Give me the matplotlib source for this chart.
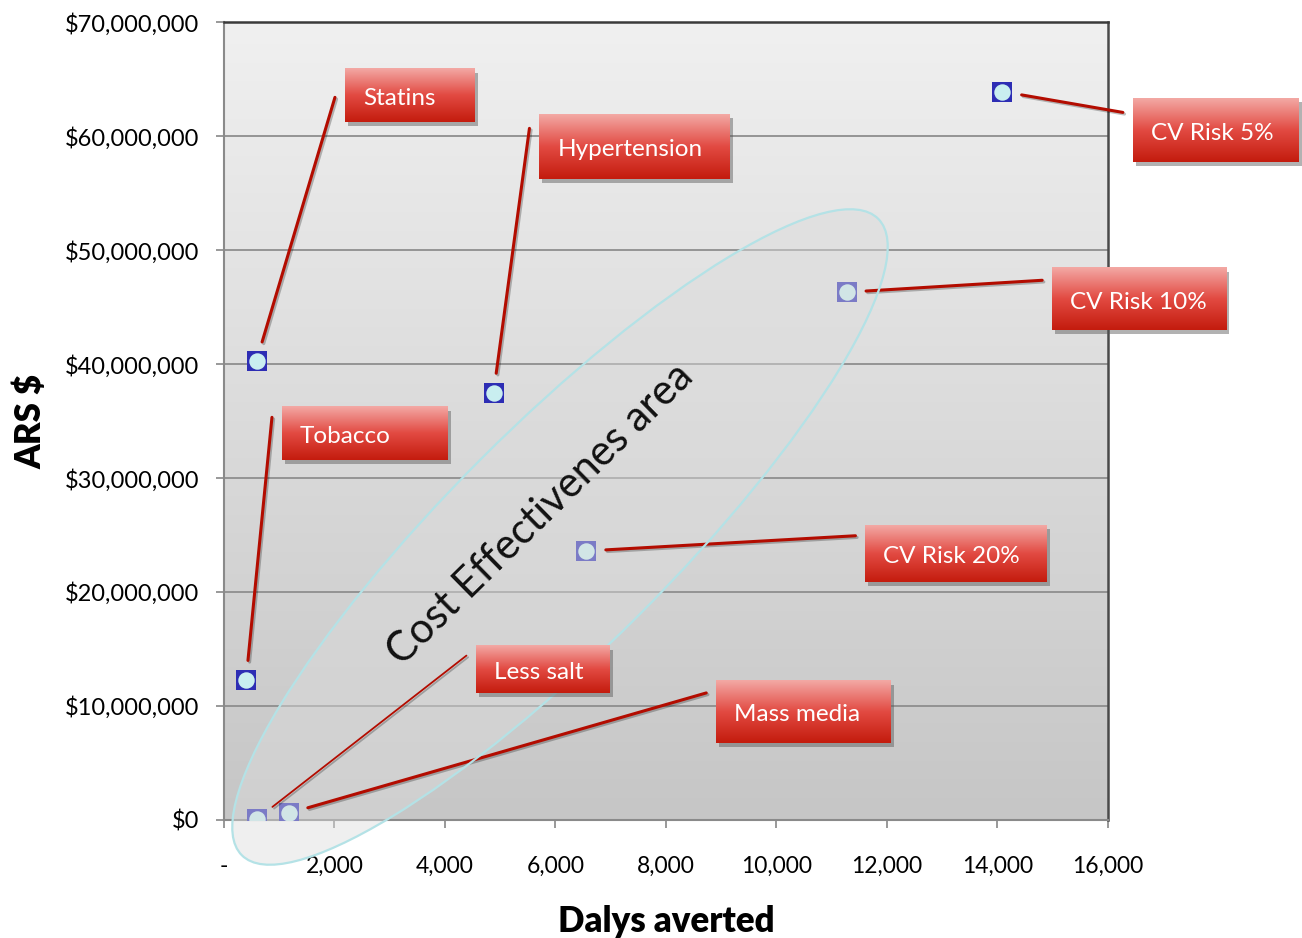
import numpy as np
import matplotlib
matplotlib.use("Agg")
import matplotlib.pyplot as plt
from matplotlib.patches import Ellipse, Rectangle
from matplotlib.transforms import offset_copy
from matplotlib.ticker import FuncFormatter, MultipleLocator
import matplotlib.patheffects as pe

plt.rcParams['font.family'] = ['Lato', 'DejaVu Sans']

# intervenciones: dalys evitados vs costo
names = ["Statins", "Tobacco", "Hypertension", "CV Risk 5%", "CV Risk 10%",
         "CV Risk 20%", "Less salt", "Mass media"]
dalys = [590, 400, 4880, 14090, 11270, 6560, 600, 1180]
cost_ars = [40.3e6, 12.3e6, 37.5e6, 63.9e6, 46.3e6, 23.6e6, 0.1e6, 0.6e6]

# cajas de etiquetas (izquierda, arriba, ancho, alto) en unidades de datos
box_left = [2190, 1050, 5710, 16450, 14990, 11610, 4570, 8910]
box_top = [65.85e6, 36.2e6, 61.9e6, 63.3e6, 48.4e6, 25.9e6, 15.3e6, 12.2e6]
box_w = [2350, 3000, 3440, 3000, 3150, 3290, 2420, 3160]
box_h = [4.65e6, 4.65e6, 5.7e6, 5.6e6, 5.45e6, 5.0e6, 4.2e6, 5.45e6]
# punto de llegada de la linea guia, bajando desde el borde superior (px)
lead_drop = [28, 10, 14, 14, 12, 11, 10, 12]
leader_lw = [2.2, 2.2, 2.2, 2.2, 2.2, 2.2, 1.3, 2.2]

fig = plt.figure(figsize=(13.02, 9.38), dpi=100)
ax = fig.add_axes([0.172, 0.1258, 0.679, 0.8507])

# fondo degradado del area del grafico
grad = np.linspace(0, 1, 256)[:, None]
top_c = np.array([240, 240, 240]) / 255
bot_c = np.array([198, 198, 198]) / 255
bg = top_c[None, None, :] * (1 - grad[:, :, None]) + bot_c[None, None, :] * grad[:, :, None]
ax.imshow(bg, extent=[0, 16000, 0, 70e6], aspect='auto', zorder=0)

ax.set_xlim(0, 16000)
ax.set_ylim(0, 70e6)
ax.yaxis.set_major_locator(MultipleLocator(10e6))
ax.xaxis.set_major_locator(MultipleLocator(2000))
for yv in np.arange(10e6, 70e6, 10e6):
    ax.axhline(yv, color='#8e8e8e', lw=1.3, zorder=1)

ax.yaxis.set_major_formatter(FuncFormatter(lambda v, p: f"${v:,.0f}"))
ax.xaxis.set_major_formatter(FuncFormatter(lambda v, p: "-" if v == 0 else f"{v:,.0f}"))
ax.tick_params(axis='y', direction='out', length=6, width=1.2, color='#888888',
               labelsize=17, pad=12)
ax.tick_params(axis='x', direction='out', length=6, width=1.2, color='#888888',
               labelsize=16.5, pad=20)

ax.spines['top'].set_color('#3a3a3a')
ax.spines['top'].set_linewidth(1.8)
ax.spines['right'].set_color('#4a4a4a')
ax.spines['right'].set_linewidth(1.8)
ax.spines['left'].set_color('#8a8a8a')
ax.spines['left'].set_linewidth(1.5)
ax.spines['bottom'].set_color('#8a8a8a')
ax.spines['bottom'].set_linewidth(1.5)

ax.set_xlabel("Dalys averted", fontsize=25, fontweight='heavy', labelpad=20)
ax.set_ylabel("ARS $", fontsize=25, fontweight='heavy', labelpad=12)

# marcadores
ax.scatter(dalys, cost_ars, marker='s', s=210, color='#2d2db4', zorder=3, linewidths=0)
ax.scatter(dalys, cost_ars, marker='o', s=140, color='#c9eef0', zorder=3.1, linewidths=0)

# elipse de zona costo-efectiva (en pulgadas de la figura)
ell = Ellipse((5.60, 4.01), 9.0, 2.22, angle=45, transform=fig.dpi_scale_trans,
              facecolor='#dcdcdc', alpha=0.45, edgecolor='none', zorder=4, clip_on=False)
ax.add_patch(ell)
ell_edge = Ellipse((5.60, 4.01), 9.0, 2.22, angle=45, transform=fig.dpi_scale_trans,
                   facecolor='none', edgecolor='#b4e2e6', lw=1.6, zorder=6, clip_on=False)
ax.add_patch(ell_edge)

ax.text(5720, 26.8e6, "Cost Effectivenes area", rotation=44.5, fontsize=30,
        ha='center', va='center', rotation_mode='anchor', zorder=7, color='#111111')

# cajas rojas con degradado y lineas guia
t = np.linspace(0, 1, 64)
c0 = np.array([243, 168, 164]) / 255
c1 = np.array([226, 74, 66]) / 255
c2 = np.array([196, 28, 14]) / 255
box_grad = np.where(t[:, None] < 0.5,
                    c0 * (1 - 2 * t[:, None]) + c1 * 2 * t[:, None],
                    c1 * (2 - 2 * t[:, None]) + c2 * (2 * t[:, None] - 1))[:, None, :]

shadow_tr = offset_copy(ax.transData, fig, x=3, y=-4, units='dots')
text_tr = offset_copy(ax.transData, fig, x=18, y=-3, units='dots')

for i, name in enumerate(names):
    x0, y1 = box_left[i], box_top[i]
    x1, y0 = x0 + box_w[i], y1 - box_h[i]
    ax.add_patch(Rectangle((x0, y0), box_w[i], box_h[i], transform=shadow_tr,
                           facecolor='#555555', alpha=0.45, edgecolor='none',
                           clip_on=False, zorder=7.5))
    ax.imshow(box_grad, extent=[x0, x1, y0, y1], aspect='auto', zorder=8, clip_on=False)
    ax.text(x0, (y0 + y1) / 2, name, transform=text_tr, color='white', fontsize=17.5,
            ha='left', va='center', zorder=9, clip_on=False)
    lead_tr = offset_copy(ax.transData, fig, x=-10, y=-lead_drop[i], units='dots')
    ax.annotate('', xy=(dalys[i], cost_ars[i]), xytext=(x0, y1), textcoords=lead_tr,
                arrowprops=dict(arrowstyle='-', color='#b30c00', lw=leader_lw[i],
                                shrinkA=0, shrinkB=14,
                                path_effects=[pe.SimpleLineShadow(offset=(1.2, -1.2), alpha=0.25),
                                              pe.Normal()]),
                zorder=5, annotation_clip=False)

ax.set_xlim(0, 16000)
ax.set_ylim(0, 70e6)

fig.savefig("out.png", dpi=100)
